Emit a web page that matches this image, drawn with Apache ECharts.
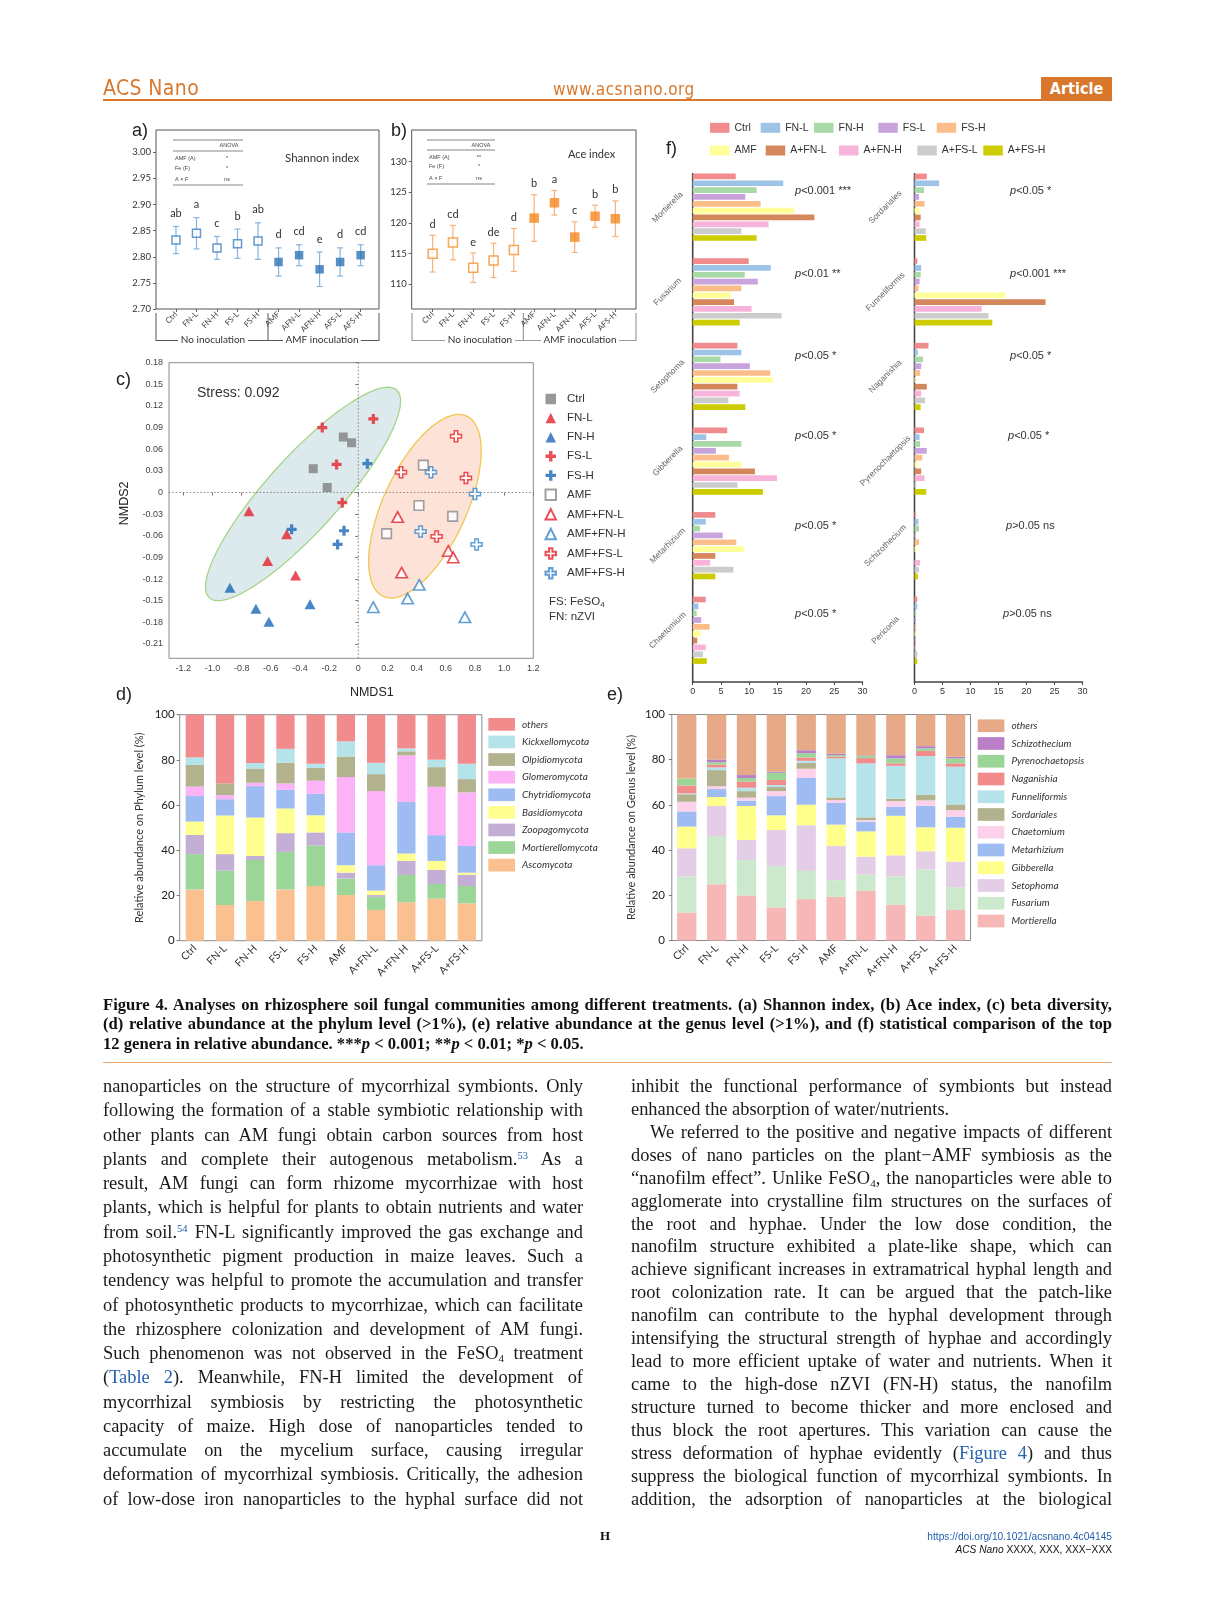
<!DOCTYPE html>
<html>
<head>
<meta charset="utf-8">
<title>ACS Nano Figure 4</title>
<script src="https://cdn.jsdelivr.net/npm/echarts@6/dist/echarts.min.js"></script>
<style>
html,body{margin:0;padding:0;background:#fff;}
body{width:1214px;height:1601px;position:relative;overflow:hidden;}
.chart{position:absolute;left:0;top:0;width:1214px;height:1601px;}
.t{position:absolute;white-space:nowrap;}
.hdr{font-family:'Liberation Sans Narrow','DejaVu Sans Condensed',sans-serif;color:#D9782D;}
.plab{font-family:'Liberation Sans',Arial,sans-serif;font-size:18px;line-height:20px;color:#222;}
.ln{position:absolute;text-align:justify;text-align-last:justify;box-sizing:border-box;}
.ln.nj{text-align:left;text-align-last:left;}
.cap{font-family:'Liberation Serif','Times New Roman',serif;font-weight:bold;font-size:16.6px;line-height:19px;color:#111;left:103px;width:1009px;}
.bd{font-family:'Liberation Serif','Times New Roman',serif;font-size:18.4px;line-height:21px;color:#1a1a1a;}
.lc{left:103px;width:480px;}
.rc{left:631px;width:481px;}
.lk{color:#2561AE;}
sup{font-size:10.5px;line-height:0;vertical-align:6px;color:#2561AE;}
sub{font-size:11px;line-height:0;vertical-align:-3px;}
.pv{font-family:'Liberation Sans',Arial,sans-serif;font-size:11px;line-height:14px;color:#333;}
.note{font-family:'Liberation Sans',Arial,sans-serif;font-size:11.5px;line-height:14px;color:#333;}
</style>
</head>
<body>
<div id="cab" class="chart"></div>
<div id="cc" class="chart"></div>
<div id="cd" class="chart"></div>
<div id="ce" class="chart"></div>
<div id="cf" class="chart"></div>

<!-- header -->
<div class="t hdr" style="left:103px;top:75px;font-size:21px;line-height:26px;letter-spacing:0.4px;">ACS Nano</div>
<div class="t hdr" style="left:553px;top:79px;font-size:17px;line-height:20px;letter-spacing:0.5px;">www.acsnano.org</div>
<div class="t" style="left:1041px;top:77px;width:71px;height:23px;background:#D9782D;color:#fff;text-align:center;font-family:'Liberation Sans Narrow','DejaVu Sans Condensed',sans-serif;font-weight:bold;font-size:16px;line-height:23px;">Article</div>
<div class="t" style="left:103px;top:99px;width:1009px;height:2px;background:#D9782D;"></div>

<!-- panel letters -->
<div class="t plab" style="left:132px;top:120px;">a)</div>
<div class="t plab" style="left:391px;top:120px;">b)</div>
<div class="t plab" style="left:116px;top:369px;">c)</div>
<div class="t plab" style="left:116px;top:684px;">d)</div>
<div class="t plab" style="left:607px;top:684px;">e)</div>
<div class="t plab" style="left:666px;top:138px;">f)</div>

<!-- panel c notes -->
<div class="t note" style="left:549px;top:594px;">FS: FeSO<sub style="font-size:8px;vertical-align:-2px;">4</sub></div>
<div class="t note" style="left:549px;top:609px;">FN: nZVI</div>

<!-- panel f p-values -->
<div class="t pv" style="left:795px;top:183px;"><i>p</i>&lt;0.001 ***</div>
<div class="t pv" style="left:795px;top:266px;"><i>p</i>&lt;0.01 **</div>
<div class="t pv" style="left:795px;top:348px;"><i>p</i>&lt;0.05 *</div>
<div class="t pv" style="left:795px;top:428px;"><i>p</i>&lt;0.05 *</div>
<div class="t pv" style="left:795px;top:518px;"><i>p</i>&lt;0.05 *</div>
<div class="t pv" style="left:795px;top:606px;"><i>p</i>&lt;0.05 *</div>
<div class="t pv" style="left:1010px;top:183px;"><i>p</i>&lt;0.05 *</div>
<div class="t pv" style="left:1010px;top:266px;"><i>p</i>&lt;0.001 ***</div>
<div class="t pv" style="left:1010px;top:348px;"><i>p</i>&lt;0.05 *</div>
<div class="t pv" style="left:1008px;top:428px;"><i>p</i>&lt;0.05 *</div>
<div class="t pv" style="left:1006px;top:518px;"><i>p</i>&gt;0.05 ns</div>
<div class="t pv" style="left:1003px;top:606px;"><i>p</i>&gt;0.05 ns</div>

<!-- caption rule -->
<div class="t" style="left:103px;top:1062px;width:1009px;height:1px;background:#E9A56B;"></div>

<!-- footer -->
<div class="t" style="left:600px;top:1529px;font-family:'Liberation Serif',serif;font-weight:bold;font-size:13px;line-height:14px;color:#111;">H</div>
<div class="t" style="right:102px;top:1531px;font-family:'Liberation Sans',Arial,sans-serif;font-size:10.2px;line-height:12px;color:#1F5FAD;">https://doi.org/10.1021/acsnano.4c04145</div>
<div class="t" style="right:102px;top:1544px;font-family:'Liberation Sans',Arial,sans-serif;font-size:10.2px;line-height:12px;color:#111;"><i>ACS Nano</i> XXXX, XXX, XXX−XXX</div>

<div id="text"></div>

<script>
// ================= DATA =================
// (a) Shannon index and (b) Ace index
const treatAB = ['Ctrl','FN-L','FN-H','FS-L','FS-H','AMF','AFN-L','AFN-H','AFS-L','AFS-H'];
const shannonMean = [2.832,2.845,2.817,2.825,2.830,2.790,2.803,2.776,2.790,2.803];
const shannonSd   = [0.026,0.030,0.022,0.028,0.035,0.027,0.020,0.033,0.027,0.020];
const shannonLetters = ['ab','a','c','b','ab','d','cd','e','d','cd'];
const aceMean = [115.0,116.8,112.7,113.9,115.6,120.8,123.3,117.7,121.1,120.7];
const aceSd   = [3.0,2.8,2.4,2.8,3.5,3.8,2.0,2.5,1.8,2.9];
const aceLetters = ['d','cd','e','de','d','b','a','c','b','b'];
const shannonTicks = [2.70, 3.00, 0.05];
const aceTicks = [110, 130, 5];

// (c) NMDS
const nmdsCtrl   = [[-0.103,0.077],[-0.046,0.069],[-0.309,0.033],[-0.213,0.007]];
const nmdsFNL    = [[-0.750,-0.026],[-0.491,-0.058],[-0.622,-0.095],[-0.430,-0.115]];
const nmdsFNH    = [[-0.880,-0.132],[-0.702,-0.161],[-0.613,-0.179],[-0.331,-0.155]];
const nmdsFSL    = [[-0.247,0.090],[0.103,0.102],[-0.149,0.039],[-0.110,-0.014]];
const nmdsFSH    = [[0.062,0.040],[-0.457,-0.051],[-0.098,-0.053],[-0.142,-0.072]];
const nmdsAMF    = [[0.446,0.038],[0.416,-0.018],[0.647,-0.033],[0.194,-0.057]];
const nmdsAFNL   = [[0.270,-0.034],[0.297,-0.111],[0.617,-0.081],[0.651,-0.090]];
const nmdsAFNH   = [[0.103,-0.159],[0.338,-0.147],[0.418,-0.128],[0.731,-0.173]];
const nmdsAFSL   = [[0.670,0.078],[0.293,0.028],[0.738,0.020],[0.537,-0.061]];
const nmdsAFSH   = [[0.498,0.028],[0.800,-0.002],[0.427,-0.054],[0.811,-0.072]];
const ellipseNoAMF = {c:[-0.379,-0.002], u:[0.642,0.144], v:[0.187,-0.034]};
const ellipseAMF   = {c:[0.457,-0.019],  u:[0.286,0.125], v:[0.259,-0.024]};
const nmdsStress = '0.092';

// (d) phylum level (%)
const treatDE = ['Ctrl','FN-L','FN-H','FS-L','FS-H','AMF','A+FN-L','A+FN-H','A+FS-L','A+FS-H'];
const ascomycota        = [22.7,15.8,17.6,22.7,24.2,20.2,13.6,17.0,18.6,16.5];
const mortierellomycota = [15.6,15.2,18.1,16.6,17.9,7.3,5.8,12.1,6.5,7.7];
const zoopagomycota     = [8.5,7.3,1.8,8.3,5.8,2.6,0.8,6.2,6.2,5.0];
const basidiomycota     = [5.9,17.1,17.0,10.9,7.6,3.3,2.0,3.3,4.0,0.9];
const chytridiomycota   = [11.3,7.2,13.9,8.3,9.5,14.5,11.2,22.8,11.4,11.8];
const glomeromycota     = [4.2,1.8,1.5,2.8,5.8,24.5,32.8,20.6,21.4,23.7];
const olpidiomycota     = [9.6,5.2,6.3,9.1,5.7,9.1,7.5,1.8,8.7,5.9];
const kickxellomycota   = [3.3,0,2.4,6.2,1.8,6.7,5.0,1.3,3.3,6.8];
const othersPhylum      = [18.9,30.4,21.4,15.1,21.7,11.8,21.3,14.9,19.9,21.7];

// (e) genus level (%)
const mortierellaG   = [12.4,24.9,19.9,14.6,18.3,19.3,21.9,15.8,11.0,13.5];
const fusariumG      = [15.9,21.3,15.7,18.4,12.5,7.4,7.3,12.5,20.5,10.1];
const setophomaG     = [12.5,13.3,8.9,15.9,20.2,15.1,7.9,9.4,8.0,11.3];
const gibberellaG    = [9.6,4.0,15.0,6.5,9.1,9.5,11.2,17.5,10.6,15.0];
const metarhiziumG   = [6.7,3.5,2.4,8.5,11.8,9.7,4.3,4.0,9.5,4.9];
const chaetomiumG    = [4.3,1.3,1.3,2.2,4.1,1.2,0.7,2.5,2.4,2.9];
const sordarialesG   = [3.3,7.1,2.9,1.8,2.6,1.1,1.2,1.0,2.4,2.5];
const funneliformisG = [0.4,1.2,1.5,0.9,0.9,17.3,23.9,14.6,17.2,16.7];
const naganishiaG    = [3.5,1.2,2.8,2.2,1.5,0.7,2.3,1.1,2.3,1.5];
const pyrenoG        = [3.1,1.1,1.5,3.2,1.9,0.7,0.9,2.2,1.1,2.2];
const schizoG        = [0,1.2,1.3,0.5,1.3,0.6,0.3,1.4,1.0,0.7];
const othersGenus    = [28.3,19.9,26.8,25.3,15.8,17.4,18.1,18.0,14.0,18.7];

// (f) top 12 genera, relative abundance (%) per treatment
const fTreat = ['Ctrl','FN-L','FN-H','FS-L','FS-H','AMF','A+FN-L','A+FN-H','A+FS-L','A+FS-H'];
const fGeneraLeft  = ['Mortierella','Fusarium','Setophoma','Gibberella','Metarhizium','Chaetomium'];
const fGeneraRight = ['Sordariales','Funneliformis','Naganishia','Pyrenochaetopsis','Schizothecium','Periconia'];
const fMortierella   = [7.6,16.0,11.3,9.3,12.0,17.9,21.5,13.4,8.6,11.3];
const fFusarium      = [9.9,13.8,9.2,11.5,8.6,6.7,7.3,10.4,15.7,8.3];
const fSetophoma     = [7.9,8.6,4.9,10.1,13.7,14.2,7.9,8.3,6.3,9.3];
const fGibberella    = [6.1,2.4,8.6,4.1,6.4,8.6,11.0,14.9,7.9,12.4];
const fMetarhizium   = [4.0,2.3,1.3,5.3,7.7,9.0,4.0,3.1,7.2,4.0];
const fChaetomium    = [2.3,1.0,0.7,1.5,3.0,1.4,0.8,2.3,1.8,2.5];
const fSordariales   = [2.2,4.4,1.7,0.8,1.8,0.9,1.1,0.9,2.0,2.1];
const fFunneliformis = [0.5,1.2,1.1,0.9,0.7,16.2,23.4,12.0,13.2,13.9];
const fNaganishia    = [2.5,0.6,1.5,1.2,1.0,0.2,2.2,1.2,1.9,1.1];
const fPyreno        = [1.7,0.9,1.0,2.2,1.4,0.5,1.2,1.8,0.3,2.1];
const fSchizo        = [0.2,0.7,0.8,0.1,0.8,0.3,0.0,1.0,0.8,0.6];
const fPericonia     = [0.5,0.5,0.2,0.2,0.1,0.2,0.1,0.2,0.5,0.5];

// ================= STYLE CONSTANTS =================
const SANS = "'Liberation Sans', Arial, sans-serif";
const CAL = "Lato, 'Open Sans', sans-serif";
const W = 1214, H = 1601;
function mk(id){ return echarts.init(document.getElementById(id), null, {renderer:'canvas', width:W, height:H}); }
function gLine(x1,y1,x2,y2,color,w){ return {type:'line', silent:true, shape:{x1:x1,y1:y1,x2:x2,y2:y2}, style:{stroke:color, lineWidth:w}}; }
function gText(x,y,text,size,o){
  o = o || {};
  const al = o.align || 'left';
  return {type:'text', x:x, y:y, silent:true, style:{text:text, fontSize:size, fontFamily:o.family||CAL,
    fontStyle:o.style||'normal', fontWeight:o.weight||'normal', fill:o.color||'#333',
    align:al, textAlign:al, verticalAlign:'middle', textVerticalAlign:'middle'}};
}
function gRect(x,y,w,h,stroke,lw){ return {type:'rect', silent:true, shape:{x:x,y:y,width:w,height:h}, style:{fill:'none', stroke:stroke, lineWidth:lw}}; }

// ================= PANELS a & b =================
function abX(gi, offset){
  return {type:'category', gridIndex:gi, data:treatAB, offset:offset,
    axisLine:{show:false}, axisTick:{show:true, alignWithLabel:true, length:3, lineStyle:{color:'#666'}},
    axisLabel:{rotate:45, interval:0, hideOverlap:false, fontSize:8, fontFamily:CAL, color:'#444', margin:4},
    splitLine:{show:false}};
}
function abY(gi, ticks, offset, digits){
  return {type:'value', gridIndex:gi, min:ticks[0], max:ticks[1], interval:ticks[2], offset:offset,
    axisLine:{show:false}, axisTick:{show:true, length:3, lineStyle:{color:'#666'}}, splitLine:{show:false},
    axisLabel:{formatter:function(v){return v.toFixed(digits);}, fontSize:9.5, fontFamily:CAL, color:'#333', margin:5}};
}
function errSeries(gi, means, sds, letters, color, gap){
  return {type:'custom', xAxisIndex:gi, yAxisIndex:gi, silent:true, z:2,
    data: means.map(function(m,i){ return [i, m - sds[i], m + sds[i]]; }),
    encode:{x:0, y:[1,2]},
    renderItem:function(params, api){
      const i = api.value(0), lo = api.value(1), hi = api.value(2);
      const a = api.coord([i, hi]), b = api.coord([i, lo]);
      const st = {stroke:color, lineWidth:1.2};
      return {type:'group', children:[
        {type:'line', shape:{x1:a[0],y1:a[1],x2:b[0],y2:b[1]}, style:st},
        {type:'line', shape:{x1:a[0]-3,y1:a[1],x2:a[0]+3,y2:a[1]}, style:st},
        {type:'line', shape:{x1:b[0]-3,y1:b[1],x2:b[0]+3,y2:b[1]}, style:st},
        {type:'text', x:a[0], y:a[1]-gap, style:{text:letters[params.dataIndex], fontSize:11, fontFamily:CAL, fill:'#333',
          align:'center', textAlign:'center', verticalAlign:'middle', textVerticalAlign:'middle'}}
      ]};
    }};
}
function markSeries(gi, means, from, to, open, color, size){
  return {type:'scatter', xAxisIndex:gi, yAxisIndex:gi, z:3, symbol:'rect', symbolSize:size, silent:true,
    data: means.slice(from, to).map(function(m,k){ return [from + k, m]; }),
    itemStyle: open ? {color:'#fff', borderColor:color, borderWidth:1.5} : {color:color}};
}
function anova(x0, x1, yTop, yMid, yBot, xc, rows, rowY){
  const c = '#666', out = [gLine(x0,yTop,x1,yTop,c,0.8), gLine(x0,yMid,x1,yMid,c,0.8), gLine(x0,yBot,x1,yBot,c,0.8),
    gText(xc+2, (yTop+yMid)/2, 'ANOVA', 5.5, {align:'center', family:SANS, color:'#444'})];
  rows.forEach(function(r,k){
    out.push(gText(x0+2, rowY[k], r[0], 5.5, {family:SANS, color:'#444'}));
    out.push(gText(xc, rowY[k], r[1], 5.5, {align:'center', family:SANS, color:'#444'}));
  });
  return out;
}
const anovaRowsA = [['AMF (A)','*'],['Fe (F)','*'],['A × F','ns']];
const anovaRowsB = [['AMF (A)','**'],['Fe (F)','*'],['A × F','ns']];

const abGraphic = [].concat(
  [gRect(156,130,223,179,'#555',1), gRect(411.7,130,224.3,179,'#555',1)],
  anova(173,243,140,151,185,227,anovaRowsA,[158.5,168.5,179]),
  anova(427,495,140,150,184,479,anovaRowsB,[157.5,166.7,178]),
  [gText(285,158,'Shannon index',11.5), gText(568,154,'Ace index',11)],
  // brackets (a)
  [gLine(156,313,156,341,'#555',1), gLine(268,313,268,341,'#555',1), gLine(379,313,379,341,'#555',1),
   gLine(156,340.5,178,340.5,'#555',1), gLine(248,340.5,283,340.5,'#555',1), gLine(361,340.5,379,340.5,'#555',1),
   gText(213,340,'No inoculation',10,{align:'center'}), gText(322,340,'AMF inoculation',10,{align:'center'})],
  // brackets (b)
  [gLine(412,313,412,341,'#888',1), gLine(523.3,313,523.3,341,'#888',1), gLine(636,313,636,341,'#888',1),
   gLine(412,340.5,445,340.5,'#999',1), gLine(515,340.5,541,340.5,'#999',1), gLine(619,340.5,636,340.5,'#999',1),
   gText(480,340,'No inoculation',10,{align:'center'}), gText(580,340,'AMF inoculation',10,{align:'center'})]
);

const chartAB = mk('cab');
chartAB.setOption({
  animation:false,
  grid:[
    {left:165.7, top:152.3, width:205.2, height:156.7, containLabel:false, outerBoundsMode:'none'},
    {left:422.5, top:161.7, width:203, height:122.6, containLabel:false, outerBoundsMode:'none'}
  ],
  xAxis:[abX(0,0), abX(1,24.7)],
  yAxis:[abY(0, shannonTicks, 9.7, 2), abY(1, aceTicks, 10.8, 0)],
  graphic:abGraphic,
  series:[
    errSeries(0, shannonMean, shannonSd, shannonLetters, '#86B4E0', 13),
    markSeries(0, shannonMean, 0, 5, true, '#3E7EC1', 8),
    markSeries(0, shannonMean, 5, 10, false, '#2F74B5', 8.5),
    errSeries(1, aceMean, aceSd, aceLetters, '#F7B27C', 11),
    markSeries(1, aceMean, 0, 5, true, '#F4902E', 9),
    markSeries(1, aceMean, 5, 10, false, '#F5871F', 9.5)
  ]
});

// ================= PANEL c =================
const CROSS = 'path://M34,0H66V34H100V66H66V100H34V66H0V34H34Z';
const RED = '#E4232A', BLUE = '#1D68B6', BLUE2 = '#3A86C8', GREY = '#7F7F7F';
const nmdsGroups = [
  {name:'Ctrl', data:nmdsCtrl, symbol:'rect', size:9, style:{color:GREY}},
  {name:'FN-L', data:nmdsFNL, symbol:'triangle', size:[11,10], style:{color:RED}},
  {name:'FN-H', data:nmdsFNH, symbol:'triangle', size:[11,10], style:{color:BLUE}},
  {name:'FS-L', data:nmdsFSL, symbol:CROSS, size:10, style:{color:RED}},
  {name:'FS-H', data:nmdsFSH, symbol:CROSS, size:10, style:{color:BLUE}},
  {name:'AMF', data:nmdsAMF, symbol:'rect', size:9.5, style:{color:'#fff', borderColor:'#8A8A8A', borderWidth:1.6}},
  {name:'AMF+FN-L', data:nmdsAFNL, symbol:'triangle', size:[11.5,10.5], style:{color:'#fff', borderColor:RED, borderWidth:1.6}},
  {name:'AMF+FN-H', data:nmdsAFNH, symbol:'triangle', size:[11.5,10.5], style:{color:'#fff', borderColor:BLUE2, borderWidth:1.6}},
  {name:'AMF+FS-L', data:nmdsAFSL, symbol:CROSS, size:11, style:{color:'#fff', borderColor:RED, borderWidth:1.5}},
  {name:'AMF+FS-H', data:nmdsAFSH, symbol:CROSS, size:11, style:{color:'#fff', borderColor:BLUE2, borderWidth:1.5}}
];
function ellipseSeries(ell, fill, stroke){
  return {type:'custom', silent:true, z:1, data:[[ell.c[0], ell.c[1]]],
    renderItem:function(params, api){
      const pts = [];
      for (let k = 0; k < 144; k++) {
        const t = 2 * Math.PI * k / 144, ct = Math.cos(t), st = Math.sin(t);
        pts.push(api.coord([ell.c[0] + ct*ell.u[0] + st*ell.v[0], ell.c[1] + ct*ell.u[1] + st*ell.v[1]]));
      }
      return {type:'polygon', shape:{points:pts}, style:{fill:fill, stroke:stroke, lineWidth:1.3}};
    }};
}
const zeroLines = {type:'custom', silent:true, z:2, data:[[0,0]],
  renderItem:function(params, api){
    const t = api.coord([0, 0.18]), b = api.coord([0, -0.23]);
    const l = api.coord([-1.3, 0]), r = api.coord([1.2, 0]);
    const st = {stroke:'#888', lineWidth:1.1, lineDash:[1.5,2]};
    return {type:'group', children:[
      {type:'line', shape:{x1:t[0],y1:t[1],x2:b[0],y2:b[1]}, style:st},
      {type:'line', shape:{x1:l[0],y1:l[1],x2:r[0],y2:r[1]}, style:st}
    ]};
  }};
function fmtZero(d){ return function(v){ return Math.abs(v) < 1e-9 ? '0' : v.toFixed(d); }; }

const chartC = mk('cc');
chartC.setOption({
  animation:false,
  grid:{left:183.3, top:362.7, width:350, height:281.3, containLabel:false, outerBoundsMode:'none'},
  xAxis:{type:'value', min:-1.2, max:1.2, interval:0.2, offset:14.3,
    name:'NMDS1', nameLocation:'middle', nameGap:28, nameTextStyle:{fontFamily:SANS, fontSize:12.5, color:'#222', padding:[0,0,0,27]},
    axisLine:{show:false}, axisTick:{show:true, length:3, lineStyle:{color:'#777'}}, splitLine:{show:false},
    axisLabel:{formatter:fmtZero(1), fontFamily:SANS, fontSize:9, color:'#444', margin:6}},
  yAxis:{type:'value', min:-0.21, max:0.18, interval:0.03, offset:14.3,
    name:'NMDS2', nameLocation:'middle', nameGap:38, nameTextStyle:{fontFamily:SANS, fontSize:12.5, color:'#222'},
    axisLine:{show:false}, axisTick:{show:true, length:3, lineStyle:{color:'#777'}}, splitLine:{show:false},
    axisLabel:{formatter:fmtZero(2), fontFamily:SANS, fontSize:9, color:'#444', margin:6}},
  legend:{orient:'vertical', left:544.5, top:393, itemWidth:10.5, itemHeight:10.5, itemGap:7.1, padding:0,
    data:nmdsGroups.map(function(g){return g.name;}),
    textStyle:{fontFamily:SANS, fontSize:11.5, color:'#333', padding:[0,0,0,6]}},
  graphic:[gRect(169,362.7,364.3,295.6,'#8a8a8a',1), gText(197,393,'Stress: ' + nmdsStress,14,{family:SANS, color:'#333'})],
  series:[ellipseSeries(ellipseNoAMF, '#DCEAEE', '#A6D588'), ellipseSeries(ellipseAMF, '#FCE2D7', '#F2C64E'), zeroLines]
    .concat(nmdsGroups.map(function(g){
      return {type:'scatter', name:g.name, data:g.data, symbol:g.symbol, symbolSize:g.size, z:3, itemStyle:g.style};
    }))
});

// ================= PANEL d =================
const phylumNames  = ['Ascomycota','Mortierellomycota','Zoopagomycota','Basidiomycota','Chytridiomycota','Glomeromycota','Olpidiomycota','Kickxellomycota','others'];
const phylumData   = [ascomycota, mortierellomycota, zoopagomycota, basidiomycota, chytridiomycota, glomeromycota, olpidiomycota, kickxellomycota, othersPhylum];
const phylumColors = ['#FBC08F','#9BD597','#C3AED6','#FFFF8F','#9EBBF2','#FBB2F6','#B2B28E','#B5E3E9','#F28B8B'];

function stackOption(opt){
  return {
    animation:false,
    grid:{left:opt.left, top:opt.top, width:opt.width, height:226, show:true, borderColor:'#8a8a8a', borderWidth:1,
      backgroundColor:'transparent', containLabel:false, outerBoundsMode:'none'},
    legend:{orient:'vertical', left:opt.legLeft, top:opt.legTop, itemWidth:26.7, itemHeight:12.7, itemGap:opt.legGap,
      icon:'rect', padding:0, data:opt.names.slice().reverse(),
      textStyle:{fontFamily:CAL, fontStyle:'italic', fontSize:10, color:'#333', padding:[0,0,0,2]}},
    xAxis:{type:'category', data:treatDE, axisLine:{show:false}, axisTick:{show:false},
      axisLabel:{rotate:45, interval:0, hideOverlap:false, fontFamily:CAL, fontSize:10.5, color:'#333', margin:6}},
    yAxis:{type:'value', min:0, max:100, interval:20, name:opt.yName, nameLocation:'middle', nameGap:35,
      nameTextStyle:{fontFamily:CAL, fontSize:11, color:'#333'},
      axisLine:{show:false}, axisTick:{show:true, length:3, lineStyle:{color:'#777'}}, splitLine:{show:false},
      axisLabel:{fontFamily:CAL, fontSize:11.5, color:'#222', margin:opt.labMargin}},
    series: opt.names.map(function(n,i){
      return {type:'bar', name:n, stack:'s', barWidth:opt.barWidth, data:opt.data[i], itemStyle:{color:opt.colors[i]}, silent:true};
    })
  };
}
const chartD = mk('cd');
chartD.setOption(stackOption({left:179.7, top:714.7, width:302.2, legLeft:488.3, legTop:718, legGap:4.9,
  names:phylumNames, data:phylumData, colors:phylumColors, barWidth:18.3,
  yName:'Relative abundance on Phylum level (%)', labMargin:5}));

// ================= PANEL e =================
const genusNames  = ['Mortierella','Fusarium','Setophoma','Gibberella','Metarhizium','Chaetomium','Sordariales','Funneliformis','Naganishia','Pyrenochaetopsis','Schizothecium','others'];
const genusData   = [mortierellaG, fusariumG, setophomaG, gibberellaG, metarhiziumG, chaetomiumG, sordarialesG, funneliformisG, naganishiaG, pyrenoG, schizoG, othersGenus];
const genusColors = ['#F7B7B6','#CDE9CD','#E4CDE7','#FFFF8C','#9EBBF2','#FDD1E9','#B2B28E','#B5E3E9','#F28B8B','#9BD597','#B97FC7','#E6AA88'];
const chartE = mk('ce');
chartE.setOption(stackOption({left:671.8, top:714.5, width:298.7, legLeft:977.7, legTop:719.4, legGap:5.05,
  names:genusNames, data:genusData, colors:genusColors, barWidth:19.3,
  yName:'Relative abundance on Genus level (%)', labMargin:6.8}));

// ================= PANEL f =================
const fColors = ['#F08C8E','#9DC3E6','#A9D9A6','#C9A3DB','#FBBE8A','#FFFF99','#D4875A','#F7B3DA','#CCCCCC','#CCCC00'];
const fLeftVals  = [fMortierella, fFusarium, fSetophoma, fGibberella, fMetarhizium, fChaetomium];
const fRightVals = [fSordariales, fFunneliformis, fNaganishia, fPyreno, fSchizo, fPericonia];
const fLegendPos = [[710,127.3],[760.7,127.3],[814,127.3],[878.3,127.3],[936.7,127.3],
                    [710,150],[765.7,150],[839,150],[917.3,150],[983.3,150]];
function fX(gi){
  return {type:'value', gridIndex:gi, min:0, max:30, interval:5, offset:9.4,
    axisLine:{show:true, lineStyle:{color:'#444', width:1.5}}, axisTick:{show:true, length:3, lineStyle:{color:'#444'}},
    splitLine:{show:false}, axisLabel:{fontFamily:SANS, fontSize:9, color:'#333', margin:5}};
}
function fY(gi, names, margin){
  return {type:'category', gridIndex:gi, inverse:true, data:names, axisLine:{show:false}, axisTick:{show:false},
    axisLabel:{rotate:45, align:'center', verticalAlign:'middle', margin:margin, interval:0, hideOverlap:false,
      fontFamily:SANS, fontSize:8.5, color:'#666'}};
}
const fSeries = [];
fTreat.forEach(function(t,k){
  fSeries.push({type:'bar', name:t, xAxisIndex:0, yAxisIndex:0, barWidth:5.7, barGap:'20%', silent:true,
    data:fLeftVals.map(function(a){return a[k];}), itemStyle:{color:fColors[k]}});
  fSeries.push({type:'bar', name:t, xAxisIndex:1, yAxisIndex:1, barWidth:5.7, barGap:'20%', silent:true,
    data:fRightVals.map(function(a){return a[k];}), itemStyle:{color:fColors[k]}});
});
const chartF = mk('cf');
chartF.setOption({
  animation:false,
  grid:[
    {left:692.7, top:164.9, width:169.8, height:507.7, containLabel:false, outerBoundsMode:'none'},
    {left:914.5, top:164.9, width:168, height:507.7, containLabel:false, outerBoundsMode:'none'}
  ],
  legend: fTreat.map(function(t,k){
    return {data:[t], left:fLegendPos[k][0], top:fLegendPos[k][1]-5, itemWidth:19.5, itemHeight:10, icon:'rect', padding:0,
      textStyle:{fontFamily:SANS, fontSize:10.5, color:'#333'}};
  }),
  xAxis:[fX(0), fX(1)],
  yAxis:[fY(0, fGeneraLeft, 25), fY(1, fGeneraRight, 29)],
  graphic:[gLine(692.7,173,692.7,682.7,'#444',1.6), gLine(914.5,173,914.5,682.7,'#444',1.6)],
  series:fSeries
});

// ================= TEXT: caption and body =================
const captionLines = [
  'Figure 4. Analyses on rhizosphere soil fungal communities among different treatments. (a) Shannon index, (b) Ace index, (c) beta diversity,',
  '(d) relative abundance at the phylum level (&gt;1%), (e) relative abundance at the genus level (&gt;1%), and (f) statistical comparison of the top',
  '12 genera in relative abundance. ***<i>p</i> &lt; 0.001; **<i>p</i> &lt; 0.01; *<i>p</i> &lt; 0.05.'
];
const leftLines = [
  'nanoparticles on the structure of mycorrhizal symbionts. Only',
  'following the formation of a stable symbiotic relationship with',
  'other plants can AM fungi obtain carbon sources from host',
  'plants and complete their autogenous metabolism.<sup>53</sup> As a',
  'result, AM fungi can form rhizome mycorrhizae with host',
  'plants, which is helpful for plants to obtain nutrients and water',
  'from soil.<sup>54</sup> FN-L significantly improved the gas exchange and',
  'photosynthetic pigment production in maize leaves. Such a',
  'tendency was helpful to promote the accumulation and transfer',
  'of photosynthetic products to mycorrhizae, which can facilitate',
  'the rhizosphere colonization and development of AM fungi.',
  'Such phenomenon was not observed in the FeSO<sub>4</sub> treatment',
  '(<span class="lk">Table 2</span>). Meanwhile, FN-H limited the development of',
  'mycorrhizal symbiosis by restricting the photosynthetic',
  'capacity of maize. High dose of nanoparticles tended to',
  'accumulate on the mycelium surface, causing irregular',
  'deformation of mycorrhizal symbiosis. Critically, the adhesion',
  'of low-dose iron nanoparticles to the hyphal surface did not'
];
const rightLines = [
  'inhibit the functional performance of symbionts but instead',
  'enhanced the absorption of water/nutrients.',
  'We referred to the positive and negative impacts of different',
  'doses of nano particles on the plant−AMF symbiosis as the',
  '“nanofilm effect”. Unlike FeSO<sub>4</sub>, the nanoparticles were able to',
  'agglomerate into crystalline film structures on the surfaces of',
  'the root and hyphae. Under the low dose condition, the',
  'nanofilm structure exhibited a plate-like shape, which can',
  'achieve significant increases in extramatrical hyphal length and',
  'root colonization rate. It can be argued that the patch-like',
  'nanofilm can contribute to the hyphal development through',
  'intensifying the structural strength of hyphae and accordingly',
  'lead to more efficient uptake of water and nutrients. When it',
  'came to the high-dose nZVI (FN-H) status, the nanofilm',
  'structure turned to become thicker and more enclosed and',
  'thus block the root apertures. This variation can cause the',
  'stress deformation of hyphae evidently (<span class="lk">Figure 4</span>) and thus',
  'suppress the biological function of mycorrhizal symbionts. In',
  'addition, the adsorption of nanoparticles at the biological'
];
const host = document.getElementById('text');
function addLine(cls, top, html, extra){
  const d = document.createElement('div');
  d.className = 'ln ' + cls;
  d.style.top = top + 'px';
  if (extra) Object.assign(d.style, extra);
  d.innerHTML = html;
  host.appendChild(d);
}
captionLines.forEach(function(h,i){ addLine('cap' + (i === 2 ? ' nj' : ''), 995 + i*19.45, h); });
leftLines.forEach(function(h,i){ addLine('bd lc', 1076 + i*24.28, h); });
rightLines.forEach(function(h,i){
  addLine('bd rc' + (i === 1 ? ' nj' : ''), 1076 + i*22.92, h, i === 2 ? {paddingLeft:'19px'} : null);
});
// shrink any line that does not fit on one row
document.querySelectorAll('.ln').forEach(function(el){
  const lh = parseFloat(getComputedStyle(el).lineHeight);
  let fs = parseFloat(getComputedStyle(el).fontSize), g = 0;
  while (el.scrollHeight > lh * 1.5 && g++ < 60) { fs -= 0.2; el.style.fontSize = fs + 'px'; }
});
</script>
</body>
</html>
